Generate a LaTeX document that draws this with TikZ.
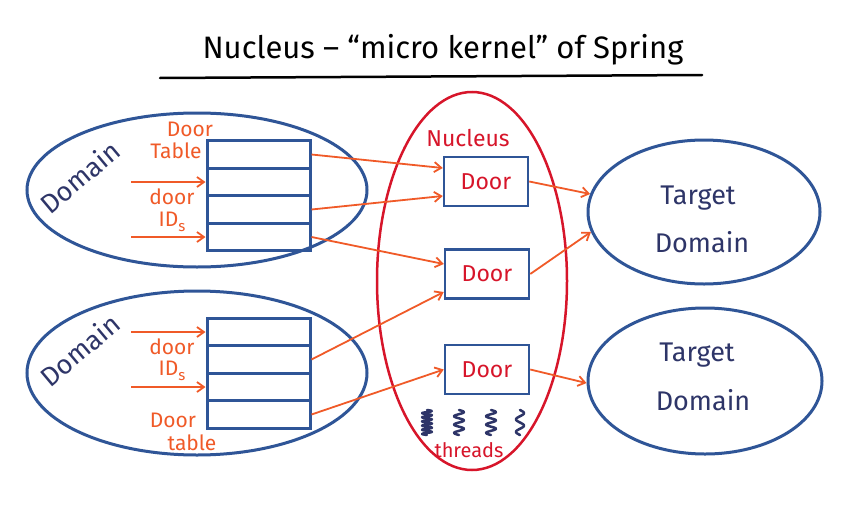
\documentclass[tikz,border=0pt]{standalone}
\usepackage{fontspec}
\setmainfont{Fira Sans}
\usetikzlibrary{shapes.geometric,arrows.meta}
\definecolor{eblue}{HTML}{2F5597}
\definecolor{navy}{HTML}{2E3568}
\definecolor{orng}{HTML}{F05A28}
\definecolor{nred}{HTML}{D7152A}
\begin{document}
\begin{tikzpicture}[x=1pt,y=-1pt,
 dom/.style={draw=eblue,line width=3pt,ellipse,inner sep=0pt},
 row/.style={draw=eblue,line width=3pt,rectangle,minimum width=103pt,minimum height=27.5pt,inner sep=0pt},
 doorbox/.style={draw=eblue,line width=2.5pt,rectangle,minimum width=84pt,minimum height=49pt,inner sep=0pt,text=nred,font=\fontsize{23}{25}\selectfont},
 link/.style={draw=orng,line width=1.8pt,-{Straight Barb[length=7pt,width=10pt]}},
 lab/.style={text=orng,font=\fontsize{21}{23}\selectfont,inner sep=0pt},
 dlab/.style={text=navy,font=\fontsize{27}{29}\selectfont,inner sep=0pt},
 thread/.style={navy,line width=2.5pt,line cap=round,line join=round},
]
\fill[white] (0,0) rectangle (859,522);
\useasboundingbox (0,0) rectangle (859,522);

% title
\node[font=\fontsize{31}{33}\selectfont,inner sep=0pt] (title) at (443,50) {Nucleus – “micro kernel” of Spring};
\coordinate (u1) at (160,78);
\coordinate (u2) at (702,75);
\draw[line width=2.5pt,line cap=round] (u1) -- (u2);

% domains
\node[dom,minimum width=340pt,minimum height=154pt] (D1) at (197,190) {};
\node[dom,minimum width=340pt,minimum height=164pt] (D2) at (197,373) {};
\node[dlab,rotate=40] (D1l) at (80,177) {Domain};
\node[dlab,rotate=40] (D2l) at (80,350) {Domain};

% nucleus
\node[ellipse,draw=nred,line width=2.5pt,inner sep=0pt,minimum width=190pt,minimum height=378pt] (N) at (472,281) {};
\node[text=nred,font=\fontsize{23}{25}\selectfont,inner sep=0pt] (Nl) at (468,138) {Nucleus};

% target domains
\node[dom,minimum width=232pt,minimum height=144pt] (T1) at (704,212) {};
\node[dom,minimum width=234pt,minimum height=146pt] (T2) at (705,381) {};
\node[dlab] (T1a) at (698,198) {Target};
\node[dlab] (T1b) at (702,242) {Domain};
\node[dlab] (T2a) at (697,355) {Target};
\node[dlab] (T2b) at (703,400) {Domain};

% door tables
\node[row] (t1) at (258.5,154.5) {};
\node[row] (t2) at (258.5,182) {};
\node[row] (t3) at (258.5,209.5) {};
\node[row] (t4) at (258.5,237) {};
\node[row] (b1) at (258.5,332) {};
\node[row] (b2) at (258.5,359.5) {};
\node[row] (b3) at (258.5,387) {};
\node[row] (b4) at (258.5,414.5) {};

% labels
\node[lab] (l1) at (190,129) {Door};
\node[lab] (l2) at (176,151) {Table};
\node[lab] (l3) at (172,197) {door};
\node[lab] (l4) at (172,222) {ID\raisebox{-0.4ex}{\fontsize{15}{16}\selectfont s}};
\node[lab] (l5) at (172,347) {door};
\node[lab] (l6) at (172,371) {ID\raisebox{-0.4ex}{\fontsize{15}{16}\selectfont s}};
\node[lab] (l7) at (173,420) {Door};
\node[lab] (l8) at (192,443) {table};

% doors
\node[doorbox] (d1) at (486,181.5) {Door};
\node[doorbox] (d2) at (487,274) {Door};
\node[doorbox] (d3) at (487,369.5) {Door};

% input arrows
\coordinate (i1) at (131,182);
\coordinate (i2) at (131,237);
\coordinate (i3) at (131,332);
\coordinate (i4) at (131,387);
\draw[link] (i1) -- (t2.west);
\draw[link] (i2) -- (t4.west);
\draw[link] (i3) -- (b1.west);
\draw[link] (i4) -- (b3.west);

% table to doors
\draw[link] (t1.east) -- ([yshift=13.5pt]d1.west);
\draw[link] (t3.east) -- ([yshift=-14.5pt]d1.west);
\draw[link] (t4.east) -- ([yshift=10pt]d2.west);
\draw[link] (b2.east) -- ([yshift=-18pt]d2.west);
\draw[link] (b4.east) -- (d3.west);

% doors to targets
\draw[link] (d1.east) -- (T1.171);
\draw[link] (d2.east) -- (T1.190);
\draw[link] (d3.east) -- (T2.181);

% threads
\draw[thread] plot[domain=0:1,samples=60,smooth] ({427+5*sin(\x*2160)},{410+25*\x});
\draw[thread] plot[domain=0:1,samples=40,smooth] ({459+5*sin(\x*1080)},{410+25*\x});
\draw[thread] plot[domain=0:1,samples=40,smooth] ({491+5*sin(\x*1080)},{410+25*\x});
\draw[thread] plot[domain=0:1,samples=40,smooth] ({520+4*sin(\x*720)},{410+25*\x});
\node[text=nred,font=\fontsize{20}{22}\selectfont,inner sep=0pt] (th) at (469,450) {threads};
\end{tikzpicture}
\end{document}
